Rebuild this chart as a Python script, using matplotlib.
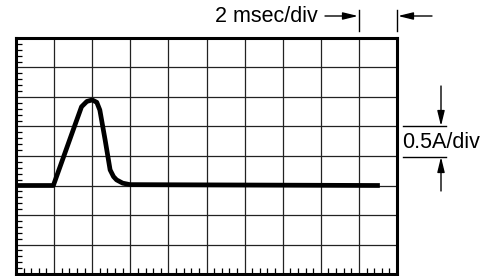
import numpy as np
import matplotlib
matplotlib.use("Agg")
import matplotlib.pyplot as plt
from matplotlib.ticker import MultipleLocator

plt.rcParams['font.family'] = ['Liberation Sans', 'DejaVu Sans']

# trace, in divisions (x: 2 msec/div, y: 0.5 A/div, baseline at 3 div)
t_div = [0.0, 0.98, 1.50, 1.72, 1.86, 2.0, 2.12, 2.2, 2.34, 2.47, 2.56, 2.64, 2.8, 2.99, 9.55]
i_div = [3.0, 3.0, 4.88, 5.67, 5.85, 5.9, 5.82, 5.56, 4.54, 3.53, 3.3, 3.19, 3.08, 3.03, 3.0]

n_x, n_y = 10, 8
W, H = 491, 276

fig = plt.figure(figsize=(W / 100, H / 100), dpi=100)
ax = fig.add_axes([16 / W, 2 / H, 381 / W, 236 / H])
ax.set_xlim(0, n_x)
ax.set_ylim(0, n_y)

ax.xaxis.set_major_locator(MultipleLocator(1))
ax.yaxis.set_major_locator(MultipleLocator(1))
ax.xaxis.set_minor_locator(MultipleLocator(0.2))
ax.yaxis.set_minor_locator(MultipleLocator(0.2))
ax.grid(True, which='major', color='#222222', lw=0.9)
ax.tick_params(which='major', length=0, labelbottom=False, labelleft=False)
ax.tick_params(which='minor', direction='in', length=4, width=0.9, color='black',
               bottom=True, left=True, top=False, right=False)
for s in ax.spines.values():
    s.set_linewidth(2.2)

ax.plot(t_div, i_div, color='black', lw=3.4, solid_capstyle='butt', solid_joinstyle='round')


def px(x, y):
    return (x / W, 1 - y / H)


tf = fig.transFigure
k = dict(color='black', lw=1)
ap = dict(arrowstyle='-|>,head_length=0.9,head_width=0.22', shrinkA=0, shrinkB=0, **k)
# time scale annotation
fig.text(*px(318, 17), '2 msec/div', transform=tf, ha='right', va='center', fontsize=15.5)
fig.add_artist(plt.Line2D(*zip(px(359, 10), px(359, 31)), transform=tf, **k))
fig.add_artist(plt.Line2D(*zip(px(397, 10), px(397, 31)), transform=tf, **k))
ax.annotate('', xy=px(358, 16), xytext=px(325, 16), xycoords=tf, textcoords=tf, arrowprops=ap)
ax.annotate('', xy=px(398, 16), xytext=px(432, 16), xycoords=tf, textcoords=tf, arrowprops=ap)

# amplitude scale annotation
fig.text(*px(402, 142), '0.5A/div', transform=tf, ha='left', va='center', fontsize=15.5)
fig.add_artist(plt.Line2D(*zip(px(403, 126.5), px(446, 126.5)), transform=tf, **k))
fig.add_artist(plt.Line2D(*zip(px(403, 156.5), px(446, 156.5)), transform=tf, **k))
ax.annotate('', xy=px(441, 126), xytext=px(441, 86), xycoords=tf, textcoords=tf, arrowprops=ap)
ax.annotate('', xy=px(441, 157), xytext=px(441, 191), xycoords=tf, textcoords=tf, arrowprops=ap)

fig.savefig('out.png', dpi=100)
